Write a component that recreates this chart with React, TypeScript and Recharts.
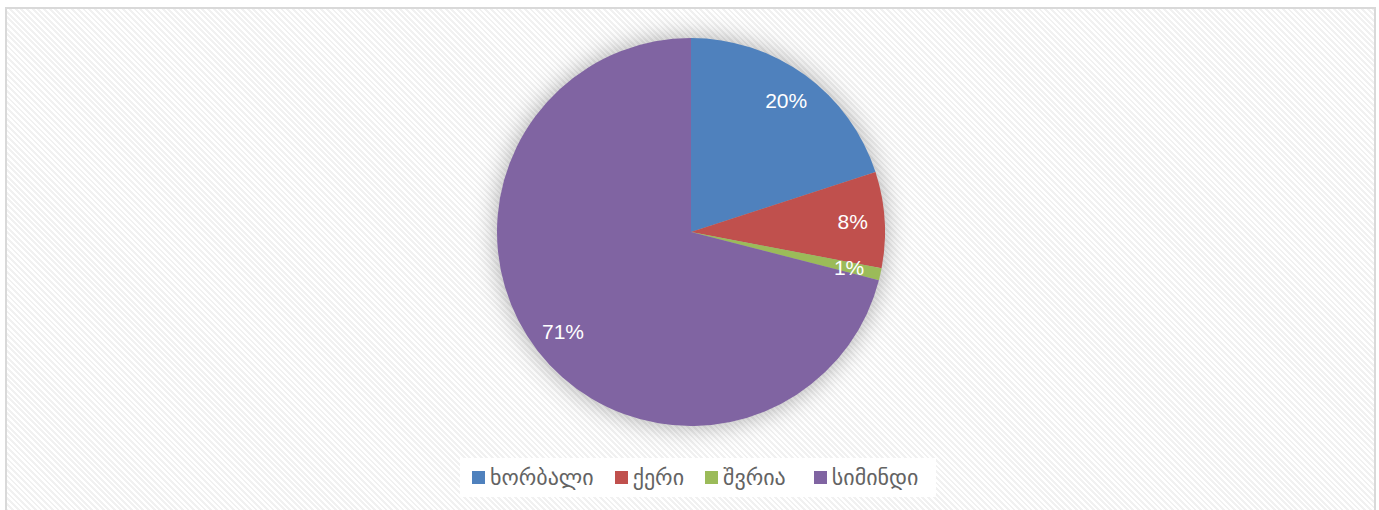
import { PieChart, Pie, Cell, Legend } from 'recharts'

const crops = ['ხორბალი', 'ქერი', 'შვრია', 'სიმინდი']
const shares = [20, 8, 1, 71]
const colors = ['#4F81BD', '#C0504D', '#9BBB59', '#8064A2']

const data = crops.map((name, i) => ({ name, value: shares[i] }))

const RAD = Math.PI / 180
const legendGaps = [21, 21, 28, 0]

const renderLabel = ({ cx, cy, midAngle, outerRadius, percent }: any) => {
  const r = outerRadius * 0.835
  const x = cx + r * Math.cos(-midAngle * RAD)
  const y = cy + r * Math.sin(-midAngle * RAD)
  return (
    <text
      x={x}
      y={y}
      fill="#fff"
      textAnchor="middle"
      dominantBaseline="central"
      fontFamily="'Liberation Sans', Arial, sans-serif"
      fontSize={21}
    >
      {`${Math.round(percent * 100)}%`}
    </text>
  )
}

const LegendBox = () => (
  <div
    style={{
      background: '#fff',
      height: 39,
      width: 476,
      display: 'flex',
      alignItems: 'center',
      paddingLeft: 12,
      boxSizing: 'border-box',
      fontFamily: "'DejaVu Sans', sans-serif",
      fontSize: 22,
      color: '#636363',
    }}
  >
    {crops.map((c, i) => (
      <div key={c} style={{ display: 'flex', alignItems: 'center', marginRight: legendGaps[i] }}>
        <span style={{ width: 13, height: 13, background: colors[i], marginRight: 5, display: 'inline-block' }} />
        <span>{c}</span>
      </div>
    ))}
  </div>
)

export default function App() {
  return (
    <div style={{ position: 'absolute', left: 0, top: 0, width: 1379, height: 510, overflow: 'hidden', background: '#fff' }}>
      <style>{`.recharts-pie { filter: drop-shadow(0 0 12px rgba(0,0,0,0.32)); }`}</style>
      <div
        style={{
          position: 'absolute',
          left: 5,
          top: 7,
          width: 1371,
          height: 520,
          boxSizing: 'border-box',
          border: '2px solid #d9d9d9',
          background: 'repeating-linear-gradient(45deg, #ffffff 0px, #ffffff 2px, #f1f1f1 2px, #f1f1f1 4px)',
        }}
      />
      <div style={{ position: 'absolute', left: 0, top: 0 }}>
        <PieChart width={1379} height={510} margin={{ top: 0, right: 0, bottom: 0, left: 0 }}>
          <Pie
            data={data}
            dataKey="value"
            nameKey="name"
            cx={691}
            cy={232}
            outerRadius={194}
            startAngle={90}
            endAngle={-270}
            stroke="none"
            label={renderLabel}
            labelLine={false}
            isAnimationActive={false}
          >
            {data.map((d, i) => (
              <Cell key={d.name} fill={colors[i]} />
            ))}
          </Pie>
          <Legend
            content={<LegendBox />}
            wrapperStyle={{ left: 460, top: 458, width: 476, bottom: 'auto' }}
          />
        </PieChart>
      </div>
    </div>
  )
}
